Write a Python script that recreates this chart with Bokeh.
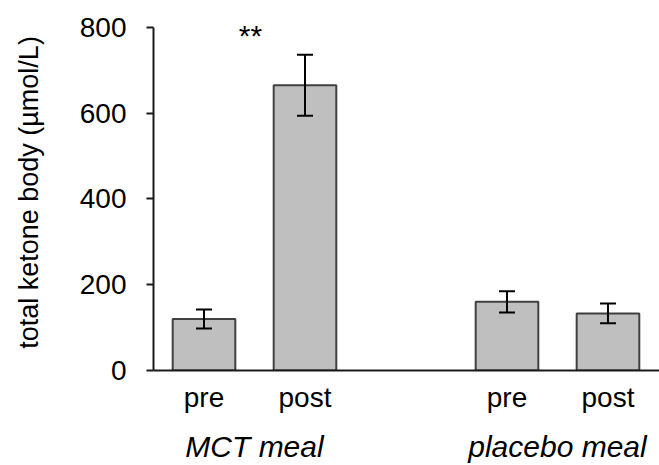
from bokeh.plotting import figure
from bokeh.models import Range1d, FixedTicker, LinearAxis, Whisker, TeeHead, ColumnDataSource
from bokeh.embed import file_html
from bokeh.resources import INLINE
from bokeh.core.properties import value

# ---- data ----
groups = ["MCT meal", "placebo meal"]
conditions = ["pre", "post"]
means = [120, 665, 160, 133]          # µmol/L
errors = [22, 71, 25, 23]             # error bar half-length
y_ticks = [0, 200, 400, 600, 800]
sig_label = "**"
sig_group = "MCT meal"

FONT = "Liberation Sans"

# layout derived from group structure: conditions adjacent, one empty slot between groups
slot = len(conditions) + 1
xs = [gi * slot + ci for gi in range(len(groups)) for ci in range(len(conditions))]
labels = [c for g in groups for c in conditions]
upper = [m + e for m, e in zip(means, errors)]
lower = [m - e for m, e in zip(means, errors)]
src = ColumnDataSource(dict(x=xs, top=means, upper=upper, lower=lower))

p = figure(width=659, height=465, output_backend="svg", toolbar_location=None,
           x_range=Range1d(-0.5, 4.51), y_range=Range1d(0, 830),
           min_border_left=153, min_border_right=0, min_border_top=14, min_border_bottom=94)
p.outline_line_color = None
p.xgrid.visible = False
p.ygrid.visible = False
p.background_fill_color = "white"
p.border_fill_color = "white"

p.vbar(x="x", top="top", width=0.62, bottom=0, source=src,
       fill_color="#bfbfbf", line_color="#404040", line_width=2)

wh = Whisker(base="x", upper="upper", lower="lower", source=src,
             line_color="black", line_width=2, level="overlay",
             upper_head=TeeHead(size=16, line_width=2, line_color="black"),
             lower_head=TeeHead(size=16, line_width=2, line_color="black"))
p.add_layout(wh)

# significance marker over the MCT group
gi = groups.index(sig_group)
gx = [xs[i] for i in range(len(xs)) if i // len(conditions) == gi]
p.text(x=[sum(gx) / len(gx)], y=[782], text=[sig_label], text_align="center",
       text_baseline="alphabetic", text_font=value(FONT), text_font_size="30px",
       text_color="black", x_offset=-4)

# y axis
ya = p.yaxis[0]
ya.ticker = FixedTicker(ticks=y_ticks)
ya.bounds = (0, 800)
ya.axis_label = "total ketone body (µmol/L)"
ya.axis_label_text_font = FONT
ya.axis_label_text_font_size = "27px"
ya.axis_label_text_font_style = "normal"
ya.axis_label_text_color = "black"
ya.axis_label_standoff = 33
ya.major_label_text_font = FONT
ya.major_label_text_font_size = "28px"
ya.major_label_text_color = "black"
ya.major_label_standoff = 20
ya.major_tick_out = 7
ya.major_tick_in = 0
ya.minor_tick_line_color = None
ya.axis_line_width = 2
ya.axis_line_color = "#1a1a1a"
ya.major_tick_line_width = 2
ya.major_tick_line_color = "#1a1a1a"

# x axis: condition labels
xa = p.xaxis[0]
xa.ticker = FixedTicker(ticks=xs)
xa.major_label_overrides = {x: l for x, l in zip(xs, labels)}
xa.major_label_text_font = FONT
xa.major_label_text_font_size = "28px"
xa.major_label_text_color = "black"
xa.major_label_standoff = 11
xa.major_tick_out = 0
xa.major_tick_in = 0
xa.major_tick_line_color = None
xa.minor_tick_line_color = None
xa.axis_line_width = 2
xa.axis_line_color = "#1a1a1a"

# second axis below: group labels
gcent = [sum(xs[gi * len(conditions):(gi + 1) * len(conditions)]) / len(conditions) for gi in range(len(groups))]
ga = LinearAxis(ticker=FixedTicker(ticks=gcent),
                major_label_overrides={c: g for c, g in zip(gcent, groups)})
ga.major_label_text_font = FONT
ga.major_label_text_font_size = "30px"
ga.major_label_text_font_style = "italic"
ga.major_label_text_color = "black"
ga.major_label_standoff = 14
ga.major_tick_out = 0
ga.major_tick_in = 0
ga.axis_line_color = None
ga.major_tick_line_color = None
ga.minor_tick_line_color = None
p.add_layout(ga, "below")

open("out.html", "w").write(file_html(p, INLINE))
